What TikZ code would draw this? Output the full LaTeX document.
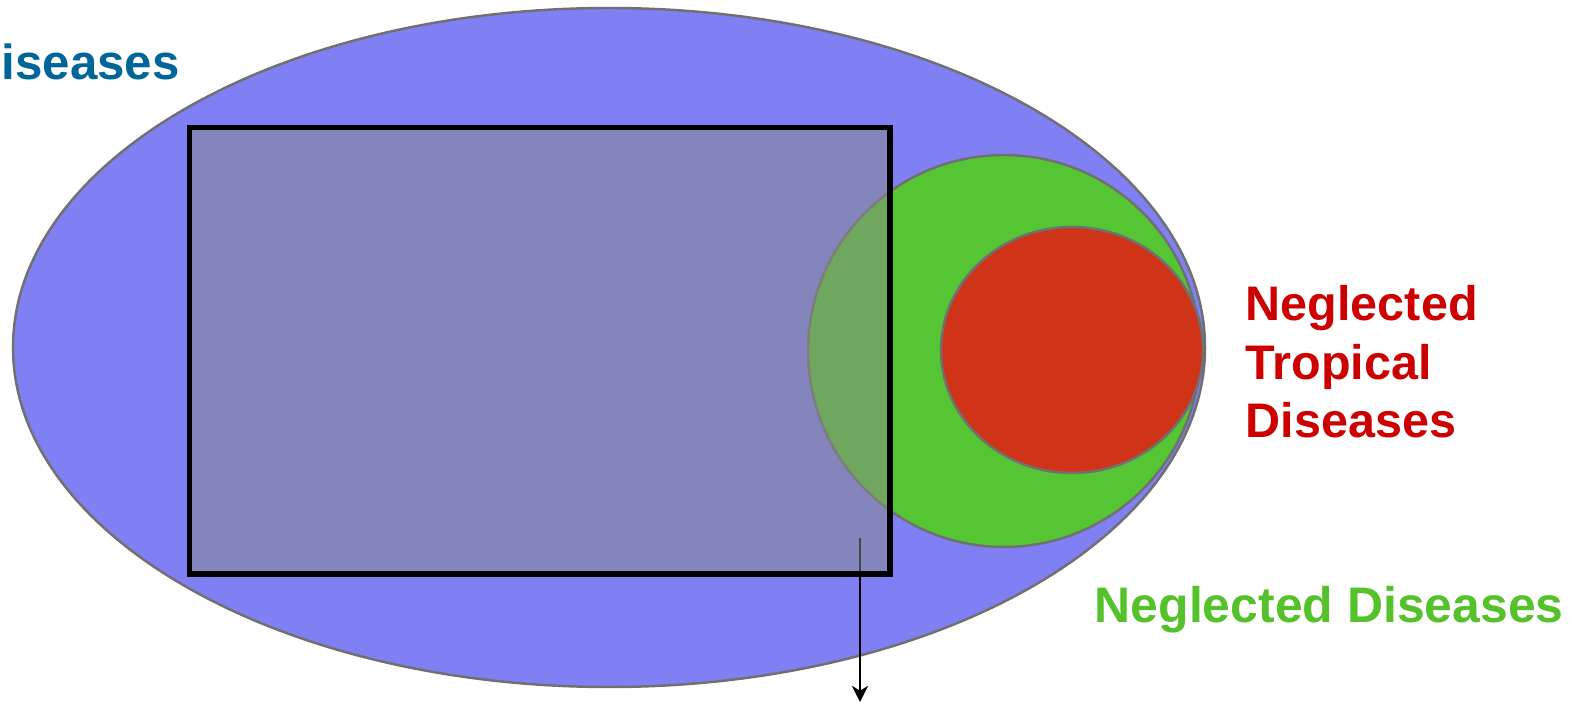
\documentclass[tikz,border=0pt]{standalone}
\usepackage{fontspec}
\setmainfont{Liberation Sans}
\usepackage{xcolor}
\usepackage{tikz}
\usetikzlibrary{arrows.meta, positioning}
\definecolor{NDAllBlue}{RGB}{128, 128, 244}
\definecolor{NDEdgeGray}{RGB}{112, 112, 112}
\definecolor{NDGreen}{RGB}{85, 197, 52}
\definecolor{NDRed}{RGB}{207, 52, 24}
\definecolor{NDBoxGray}{RGB}{138, 138, 138}
\definecolor{NDTextBlue}{RGB}{0, 102, 153}
\definecolor{NDTextRed}{RGB}{204, 0, 0}
\definecolor{NDTextGreen}{RGB}{85, 193, 43}

\begin{document}
\begin{tikzpicture}[x=0.01cm, y=-0.01cm,
  setline/.style={draw=NDEdgeGray, line width=0.7pt},
  setlabel/.style={anchor=base west, inner sep=0pt, font=\fontsize{13.8}{16.6}\selectfont\bfseries}]
  \useasboundingbox (0,0) rectangle (1580,704);
  % sets
  \filldraw[setline, fill=NDAllBlue] (609,347.5) ellipse [x radius=596, y radius=339.5];
  \filldraw[setline, fill=NDGreen] (1004,351) circle [radius=196];
  \filldraw[setline, fill=NDRed] (1072,350) ellipse [x radius=131, y radius=123];
  % arrow out of the box
  \coordinate (arrstart) at (860,538);
  \coordinate (arrend) at (860,702);
  \draw[line width=0.65pt, -{Stealth[length=4.6pt, width=4.6pt, inset=1.4pt]}] (arrstart) -- (arrend);
  \fill[NDBoxGray, fill opacity=0.5] (189.5,127.5) rectangle (890,574);
  \draw[line width=1.6pt] (189.5,127.5) rectangle (890,574);
  % labels
  \node[setlabel, text=NDTextBlue, font=\fontsize{14}{16.6}\selectfont\bfseries] (allLbl) at (1,80) {iseases};
  \node[setlabel, text=NDTextRed, align=left, anchor=north west] (ntdLbl) at (1245,285)
    {\rule{0pt}{9.9pt}Neglected\\Tropical\\Diseases};
  \node[setlabel, text=NDTextGreen, font=\fontsize{14.2}{17}\selectfont\bfseries] (ndLbl) at (1094,622)
    {Neglected Diseases};
\end{tikzpicture}
\end{document}
